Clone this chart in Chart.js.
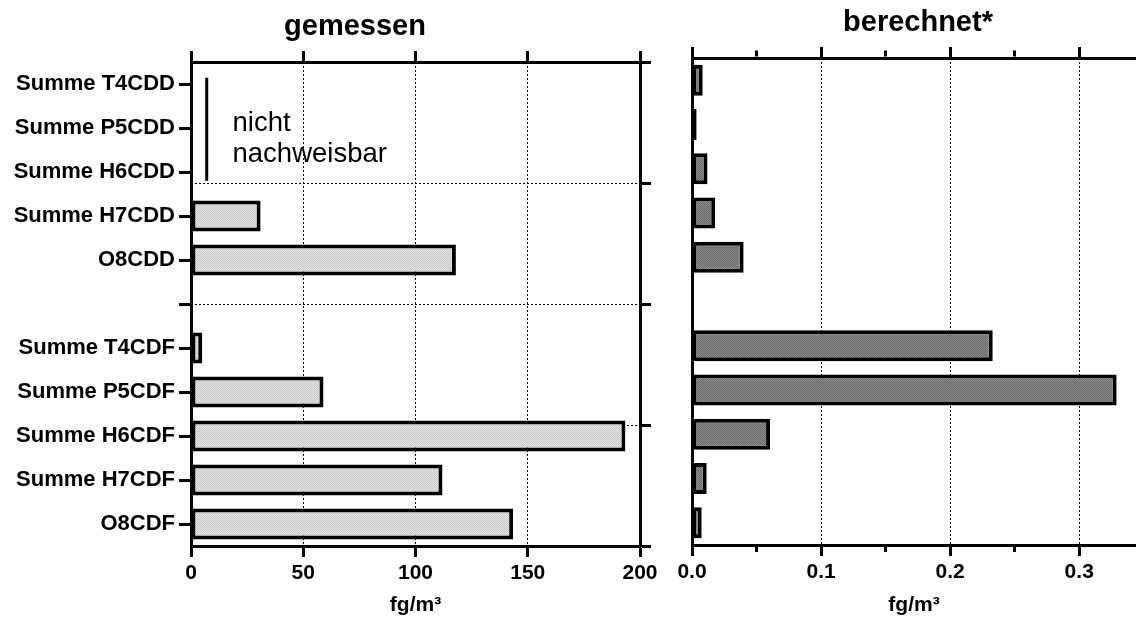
<!DOCTYPE html>
<html>
<head>
<script src="https://cdn.jsdelivr.net/npm/chart.js@4.4.1/dist/chart.umd.min.js"></script>
<style>
  body { margin: 0; background: #fff; }
  canvas { position: absolute; top: 0; }
</style>
</head>
<body>
<canvas id="leftChart" width="710" height="618" style="left:0"></canvas>
<canvas id="rightChart" width="466" height="618" style="left:670px"></canvas>

<script>
// categories, top to bottom (empty one is the gap between CDD and CDF)
var categories = ['Summe T4CDD', 'Summe P5CDD', 'Summe H6CDD', 'Summe H7CDD', 'O8CDD', '',
                  'Summe T4CDF', 'Summe P5CDF', 'Summe H6CDF', 'Summe H7CDF', 'O8CDF']
// gemessen, fg/m3 (null = nicht nachweisbar / gap)
var measured = [null, null, null, 31, 118, null, 5, 59, 193.5, 112, 143.5]
// berechnet*, fg/m3
var computed = [0.0083, 0.0036, 0.012, 0.018, 0.040, null, 0.233, 0.329, 0.0605, 0.0114, 0.0075]

var leftTicks = [0, 50, 100, 150, 200]
var rightMajor = [0.0, 0.1, 0.2, 0.3]
var sideTicks = [0, 1, 2, 3, 4]   // right-hand axis of the left panel

Chart.defaults.font.family = "'Liberation Sans', Arial, sans-serif"
Chart.defaults.color = '#000'

function stipple(base, dot) {
  var c = document.createElement('canvas')
  c.width = 2; c.height = 2
  var g = c.getContext('2d')
  g.fillStyle = base; g.fillRect(0, 0, 2, 2)
  g.fillStyle = dot; g.fillRect(0, 0, 1, 1); g.fillRect(1, 1, 1, 1)
  return g.createPattern(c, 'repeat')
}

function fixedTicks(list) {
  return function (s) { s.ticks = list.map(function (v) { return { value: v } }) }
}

// titles and the "nicht nachweisbar" note
var panelText = {
  id: 'panelText',
  afterDraw: function (chart, args, opts) {
    var ctx = chart.ctx
    ctx.save()
    ctx.fillStyle = '#000'
    ctx.textAlign = 'center'
    ctx.textBaseline = 'alphabetic'
    ctx.font = "bold 29px 'Liberation Sans', Arial, sans-serif"
    ctx.fillText(opts.title, opts.titleX, opts.titleY)
    if (opts.note) {
      var xs = chart.scales.x, ys = chart.scales.y
      var lx = xs.getPixelForValue(7)
      ctx.strokeStyle = '#000'
      ctx.lineWidth = 3
      ctx.beginPath()
      ctx.moveTo(lx, ys.getPixelForValue(-0.14))
      ctx.lineTo(lx, ys.getPixelForValue(2.2))
      ctx.stroke()
      ctx.textAlign = 'left'
      ctx.font = "27.5px 'Liberation Sans', Arial, sans-serif"
      var tx = xs.getPixelForValue(18.5)
      var ty = ys.getPixelForValue(1) + 3
      ctx.fillText('nicht', tx, ty)
      ctx.fillText('nachweisbar', tx, ty + 31)
    }
    ctx.restore()
  }
}

function fixW(w) { return function (s) { s.width = w } }
function fixH(h) { return function (s) { s.height = h } }

var tickFont = { size: 21, weight: 'bold' }

new Chart(document.getElementById('leftChart'), {
  type: 'bar',
  data: {
    labels: categories,
    datasets: [{
      data: measured,
      backgroundColor: stipple('#e4e4e4', '#c8c8c8'),
      borderColor: '#000',
      borderWidth: 4,
      borderSkipped: false,
      categoryPercentage: 1,
      barPercentage: 0.7
    }]
  },
  options: {
    indexAxis: 'y',
    responsive: false,
    animation: false,
    layout: { padding: 0 },
    plugins: {
      legend: { display: false },
      tooltip: { enabled: false },
      panelText: { title: 'gemessen', titleX: 355, titleY: 35, note: true }
    },
    scales: {
      x: {
        type: 'linear', position: 'bottom', min: 0, max: 200,
        afterBuildTicks: fixedTicks(leftTicks),
        afterFit: fixH(72),
        grid: { color: '#000', lineWidth: 1, tickLength: 11, tickWidth: 3, tickColor: '#000' },
        border: { width: 3, color: '#000', dash: [2, 2] },
        ticks: { font: tickFont, padding: 4, maxRotation: 0 },
        title: { display: true, text: 'fg/m³', font: { size: 21, weight: 'bold' }, padding: { top: 0, bottom: 0 } }
      },
      x2: {
        type: 'linear', position: 'top', min: 0, max: 200,
        afterBuildTicks: fixedTicks(leftTicks),
        afterFit: fixH(62),
        grid: { drawOnChartArea: false, tickLength: 11, tickWidth: 3, tickColor: '#000' },
        border: { width: 3, color: '#000' },
        ticks: { display: false }
      },
      y: {
        type: 'category', position: 'left',
        afterFit: fixW(191),
        grid: { drawOnChartArea: false, offset: false, tickLength: 12, tickWidth: 3, tickColor: '#000' },
        border: { width: 3, color: '#000' },
        ticks: { font: { size: 22, weight: 'bold' }, padding: 4, autoSkip: false }
      },
      y2: {
        type: 'linear', position: 'right', min: 0, max: 4, offset: false,
        afterBuildTicks: fixedTicks(sideTicks),
        afterFit: fixW(70),
        grid: { offset: false, color: '#000', lineWidth: 1, tickLength: 11, tickWidth: 3, tickColor: '#000' },
        border: { width: 3, color: '#000', dash: [2, 2] },
        ticks: { display: false }
      }
    }
  },
  plugins: [panelText]
})

function isMajor(v) {
  return rightMajor.some(function (m) { return Math.abs(m - v) < 1e-6 })
}

new Chart(document.getElementById('rightChart'), {
  type: 'bar',
  data: {
    labels: categories,
    datasets: [{
      data: computed,
      backgroundColor: stipple('#8a8a8a', '#6c6c6c'),
      borderColor: '#000',
      borderWidth: 4,
      borderSkipped: false,
      categoryPercentage: 1,
      barPercentage: 0.7
    }]
  },
  options: {
    indexAxis: 'y',
    responsive: false,
    animation: false,
    layout: { padding: 0 },
    plugins: {
      legend: { display: false },
      tooltip: { enabled: false },
      panelText: { title: 'berechnet*', titleX: 248, titleY: 31, note: false }
    },
    scales: {
      x: {
        type: 'linear', position: 'bottom', min: 0, max: 0.344,
        afterFit: fixH(73),
        grid: {
          color: function (c) { return isMajor(c.tick.value) ? '#000' : 'rgba(0,0,0,0)' },
          lineWidth: 1, tickLength: 11, tickWidth: 3, tickColor: '#000',
          tickBorderDash: function (c) { return isMajor(c.tick.value) ? [] : [5, 100] }
        },
        border: { width: 3, color: '#000', dash: [2, 2] },
        ticks: {
          stepSize: 0.05, includeBounds: false, autoSkip: false, maxRotation: 0,
          font: tickFont, padding: 4,
          callback: function (v) { return isMajor(v) ? v.toFixed(1) : '' }
        },
        title: { display: true, text: 'fg/m³', font: { size: 21, weight: 'bold' }, padding: { top: 0, bottom: 0 } }
      },
      x2: {
        type: 'linear', position: 'top', min: 0, max: 0.344,
        afterFit: fixH(58),
        grid: {
          drawOnChartArea: false, tickLength: 11, tickWidth: 3, tickColor: '#000',
          tickBorderDash: function (c) { return isMajor(c.tick.value) ? [] : [0, 3.5, 6, 100] }
        },
        border: { width: 3, color: '#000' },
        ticks: { display: false, stepSize: 0.05, includeBounds: false, autoSkip: false }
      },
      y: {
        type: 'category', position: 'left',
        afterFit: fixW(22),
        grid: { drawOnChartArea: false, drawTicks: false },
        border: { width: 3, color: '#000' },
        ticks: { display: false }
      }
    }
  },
  plugins: [panelText]
})
</script>
</body>
</html>
